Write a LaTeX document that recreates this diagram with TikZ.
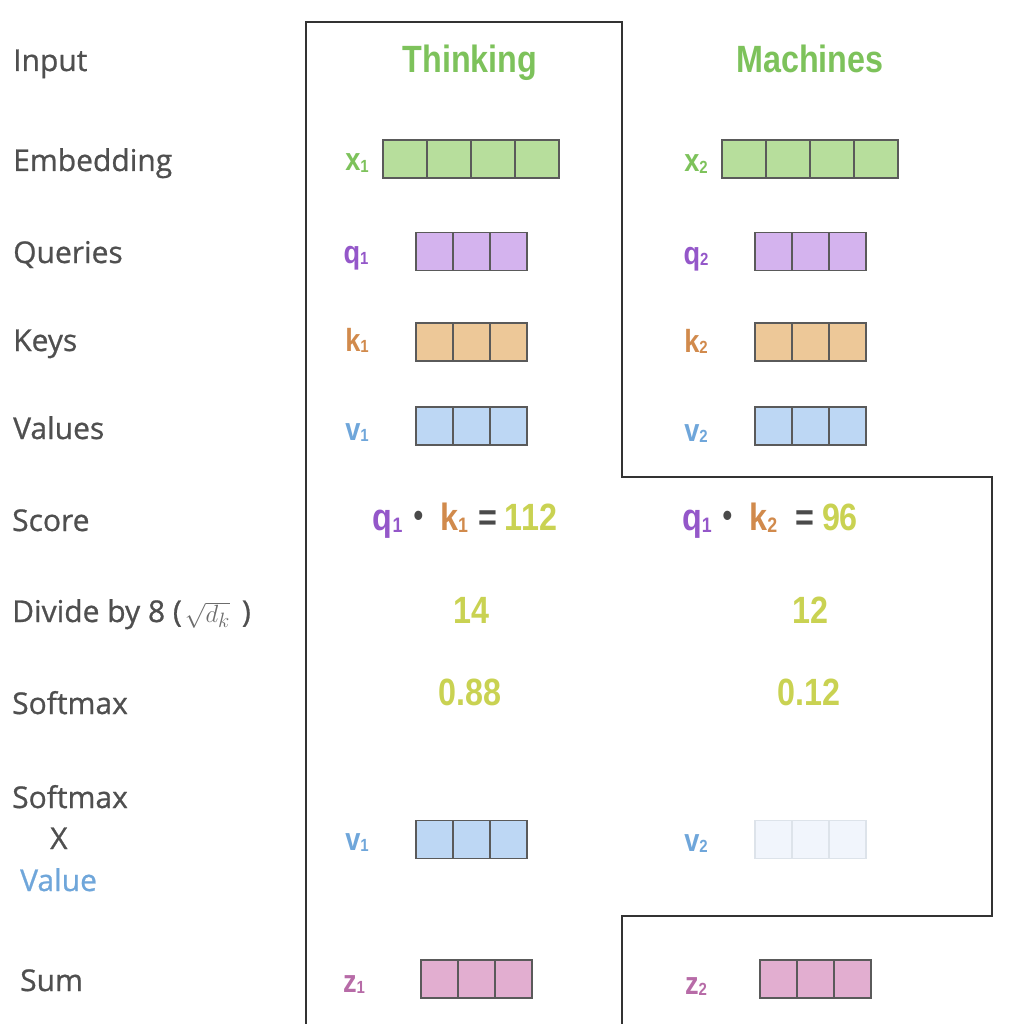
\documentclass[tikz,border=0pt]{standalone}
\usepackage{fontspec}
\usepackage{graphicx}
\setmainfont{Open Sans}
\newfontfamily\labf[FakeBold=0.8]{Open Sans}
\newfontfamily\cf[FakeStretch=0.85]{Liberation Sans}
\definecolor{tgreen}{HTML}{7DC25B}
\definecolor{fgreen}{HTML}{B7DE9C}
\definecolor{tpurple}{HTML}{9457C9}
\definecolor{fpurple}{HTML}{D4B3EE}
\definecolor{torange}{HTML}{D18A4C}
\definecolor{forange}{HTML}{EDC898}
\definecolor{tblue}{HTML}{6FA6DA}
\definecolor{fblue}{HTML}{BDD7F4}
\definecolor{tnum}{HTML}{C9D252}
\definecolor{tpink}{HTML}{B76BA7}
\definecolor{fpink}{HTML}{E2AED0}
\definecolor{ffaint}{HTML}{F1F5FC}
\definecolor{dfaint}{HTML}{DDE3EA}
\definecolor{labc}{HTML}{4F4F4F}
\definecolor{cellc}{HTML}{5A5A5A}
\definecolor{linec}{HTML}{333333}
\definecolor{opc}{HTML}{4A4A4A}
\newcommand{\subsc}[1]{\raisebox{-0.06em}{\scalebox{0.55}{#1}}}
\newcommand{\dotop}{\hspace{11pt}{\color{opc}\raisebox{0.1em}{\scalebox{0.85}{\textbullet}}}\hspace{17pt}}
\newcommand{\cells}[7]{% name, x-left, ycenter, n, width, fill, draw
  \foreach \i in {1,...,#4}{\node[cell, minimum width=#5pt, fill=#6, draw=#7] (#1-\i) at ({#2+#5*(\i-1)},#3) {};}}
\begin{document}
\begin{tikzpicture}[x=1pt,y=-1pt,
  lab/.style={font=\labf\fontsize{30}{32}\selectfont, text=labc, anchor=base west, inner sep=0},
  head/.style={font=\cf\bfseries\fontsize{38}{40}\selectfont, text=tgreen, anchor=base, inner sep=0},
  vlab/.style={font=\cf\bfseries\fontsize{32}{34}\selectfont, anchor=base, inner sep=0},
  num/.style={font=\cf\bfseries\fontsize{38}{40}\selectfont, text=tnum, anchor=base, inner sep=0},
  cell/.style={line width=1.6pt, minimum height=38pt, inner sep=0, anchor=west},
  outline/.style={draw=linec, line width=2pt}]
\useasboundingbox (0,0) rectangle (1019,1024);
% outline
\coordinate (o1) at (306,1026);
\coordinate (o2) at (306,22);
\coordinate (o3) at (622,22);
\coordinate (o4) at (622,477);
\coordinate (o5) at (992,477);
\coordinate (o6) at (992,916);
\coordinate (o7) at (622,916);
\coordinate (o8) at (622,1026);
\draw[outline] (o1) -- (o2) -- (o3) -- (o4) -- (o5) -- (o6) -- (o7) -- (o8);
% left labels
\node[lab] (lInput) at (13,71) {Input};
\node[lab] (lEmb) at (13,171) {Embedding};
\node[lab] (lQ) at (13,263) {Queries};
\node[lab] (lK) at (13,351) {Keys};
\node[lab] (lV) at (13,439) {Values};
\node[lab] (lScore) at (12,531) {Score};
\node[lab] (lDiv) at (12,622) {Divide by 8 (\hspace{3pt}{\color{gray!85!black}\fontsize{28}{30}\selectfont$\sqrt{d_k}$}\hspace{12pt})};
\node[lab] (lSoft) at (12,714) {Softmax};
\node[lab] (lSoft2) at (12,808) {Softmax};
\node[lab] (lX) at (50,849) {X};
\node[lab, text=tblue] (lVal) at (20,891) {Value};
\node[lab] (lSum) at (20,991) {Sum};
% headers
\node[head] (think) at (470,73) {Thinking};
\node[head] (mach) at (810,73) {Machines};
% column 1
\node[vlab, text=tgreen] (x1l) at (357,171) {x\subsc{1}};
\cells{x1}{382}{159}{4}{44}{fgreen}{cellc}
\node[vlab, text=tpurple] (q1l) at (356,263) {q\subsc{1}};
\cells{q1}{415}{251.5}{3}{37}{fpurple}{cellc}
\node[vlab, text=torange] (k1l) at (357,351) {k\subsc{1}};
\cells{k1}{415}{342}{3}{37}{forange}{cellc}
\node[vlab, text=tblue] (v1l) at (357,440) {v\subsc{1}};
\cells{v1}{415}{426}{3}{37}{fblue}{cellc}
\node[num] (s1) at (465,530) {{\color{tpurple}q\subsc{1}}\dotop{\color{torange}k\subsc{1}}{\color{opc}\hspace{10pt}=\hspace{8pt}}112};
\node[num] (d1) at (471,623) {14};
\node[num] (m1) at (470,705) {0.88};
\node[vlab, text=tblue] (w1l) at (357,850) {v\subsc{1}};
\cells{w1}{415}{839.5}{3}{37}{fblue}{cellc}
\node[vlab, text=tpink] (z1l) at (354,992) {z\subsc{1}};
\cells{z1}{420}{979}{3}{37}{fpink}{cellc}
% column 2
\node[vlab, text=tgreen] (x2l) at (696,172) {x\subsc{2}};
\cells{x2}{721}{159}{4}{44}{fgreen}{cellc}
\node[vlab, text=tpurple] (q2l) at (696,264) {q\subsc{2}};
\cells{q2}{754}{251.5}{3}{37}{fpurple}{cellc}
\node[vlab, text=torange] (k2l) at (696,352) {k\subsc{2}};
\cells{k2}{754}{342}{3}{37}{forange}{cellc}
\node[vlab, text=tblue] (v2l) at (696,441) {v\subsc{2}};
\cells{v2}{754}{426}{3}{37}{fblue}{cellc}
\node[num] (s2) at (770,530) {{\color{tpurple}q\subsc{1}}\dotop{\color{torange}k\subsc{2}}{\color{opc}\hspace{18pt}=\hspace{8pt}}96};
\node[num] (d2) at (810,623) {12};
\node[num] (m2) at (809,705) {0.12};
\node[vlab, text=tblue] (w2l) at (696,851) {v\subsc{2}};
\cells{w2}{754}{839.5}{3}{37}{ffaint}{dfaint}
\node[vlab, text=tpink] (z2l) at (696,994) {z\subsc{2}};
\cells{z2}{759}{979}{3}{37}{fpink}{cellc}
\end{tikzpicture}
\end{document}
